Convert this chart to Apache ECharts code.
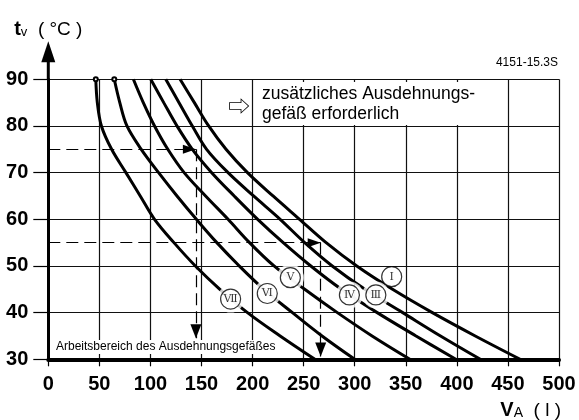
<!DOCTYPE html>
<html><head><meta charset="utf-8">
<script src="https://cdn.jsdelivr.net/npm/echarts@6/dist/echarts.min.js"></script>
<style>html,body{margin:0;padding:0;background:#fff}#c{width:579px;height:420px}</style>
</head><body><div id="c"></div>
<script>
// Flow temperature levels (°C) shared by all curves
const yLevels   = [90, 85, 80, 75, 70, 65, 60, 55, 50, 45, 40, 35, 30];
// System volume VA (l) per curve at each temperature level
const curveVII  = [46.5, 48, 52, 62, 76, 90, 104, 123, 144, 168, 195, 227, 261];
const curveVI   = [64.6, 70, 77, 91, 108, 126, 145, 165, 187, 211, 239, 268, 300];
const curveV    = [83.3, 93, 104, 117, 133, 154, 176, 197, 221, 251, 283, 317, 354];
const curveIV   = [100.3, 113, 126, 141, 160, 182, 205, 230, 257, 287, 322, 360, 399];
const curveIII  = [115, 128, 141, 155, 176, 201, 227, 251, 278, 310, 347, 384, 423];
const curveI    = [129, 143, 157, 174, 195, 220, 246, 272, 302, 337, 376, 418, 462];
// Curve labels (circled roman numerals)
const labelNames = ['Ⅶ', 'Ⅵ', 'Ⅴ', 'Ⅳ', 'Ⅲ', 'Ⅰ'];
const labelX     = [178.5, 214.4, 237, 294.8, 320.7, 336.2];
const labelY     = [42.9, 44.1, 47.5, 43.8, 43.8, 47.7];
const labelGap   = [true, true, true, true, true, false];
// Example reading paths (dashed arrows)
const example1 = [[0, 75], [144.5, 75], [144.5, 34.5]];
const example2 = [[0, 55], [266.7, 55], [266.7, 30.6]];
// Axis ticks
const xTicks = {min: 0, max: 500, step: 50};
const yTicks = {min: 30, max: 90, step: 10};

const FONT = 'Liberation Sans, Arial, Helvetica, sans-serif';
const chart = echarts.init(document.getElementById('c'), null, {renderer: 'canvas'});

function pts(xs) { return xs.map((x, i) => [x, yLevels[i]]); }
const curves = [
  {name: 'VII', xs: curveVII, dot: true},
  {name: 'VI', xs: curveVI, dot: true},
  {name: 'V', xs: curveV, dot: false},
  {name: 'IV', xs: curveIV, dot: false},
  {name: 'III', xs: curveIII, dot: false},
  {name: 'I', xs: curveI, dot: false}
];

const series = curves.map(c => ({
  type: 'line', name: c.name, smooth: 0.35, animation: false, silent: true,
  symbol: 'none', showSymbol: true, z: 3,
  data: pts(c.xs).map((p, i) => (i === 0 && c.dot)
    ? {value: p, symbol: 'emptyCircle', symbolSize: 4}
    : {value: p, symbol: 'none'}),
  lineStyle: {color: '#000', width: 3},
  itemStyle: {color: '#000', borderColor: '#000', borderWidth: 1}
}));

// white gaps around labels
series.push({
  type: 'scatter', silent: true, animation: false, z: 4,
  data: labelX.map((x, i) => [x, labelY[i]]).filter((p, i) => labelGap[i]),
  symbolSize: 27, itemStyle: {color: '#fff'}
});
series.push({
  type: 'scatter', silent: true, animation: false, z: 5,
  data: labelX.map((x, i) => ({value: [x, labelY[i]], name: labelNames[i]})),
  symbolSize: 20,
  itemStyle: {color: '#fff', borderColor: '#000', borderWidth: 1.2},
  label: {show: true, position: 'inside', formatter: p => p.name, color: '#000',
          fontSize: 11, fontFamily: 'DejaVu Serif, Liberation Serif, serif'}
});

function arrowSegs(path) {
  const segs = [];
  for (let i = 0; i < path.length - 1; i++) {
    const horiz = path[i][1] === path[i + 1][1];
    segs.push([
      {coord: path[i], symbol: 'none'},
      {coord: path[i + 1], symbol: 'triangle',
       symbolSize: horiz ? [9, 13] : [11, 14], symbolOffset: horiz ? [0, 6.5] : [0, 7]}
    ]);
  }
  return segs;
}
series.push({
  type: 'line', data: [], silent: true, animation: false, z: 6,
  markLine: {
    silent: true, animation: false, symbol: ['none', 'triangle'],
    lineStyle: {color: '#000', width: 1.2, type: [12, 6]},
    itemStyle: {color: '#000'},
    label: {show: false}, emphasis: {disabled: true},
    data: arrowSegs(example1).concat(arrowSegs(example2))
  }
});

const option = {
  backgroundColor: '#fff',
  animation: false,
  grid: {left: 48.3, top: 79.3, width: 510.7, height: 280, outerBoundsMode: 'none', containLabel: false},
  xAxis: {
    type: 'value', min: xTicks.min, max: xTicks.max, interval: xTicks.step,
    axisLine: {show: true, onZero: false, lineStyle: {color: '#000', width: 4}},
    axisTick: {show: true, length: 7, lineStyle: {color: '#000', width: 1.2}},
    splitLine: {show: true, lineStyle: {color: '#111', width: 1.2}},
    axisLabel: {color: '#000', fontSize: 20, fontWeight: 'bold', fontFamily: FONT, margin: 15}
  },
  yAxis: {
    type: 'value', min: yTicks.min, max: yTicks.max, interval: yTicks.step,
    axisLine: {show: true, onZero: false, lineStyle: {color: '#000', width: 3}},
    axisTick: {show: true, length: 15, lineStyle: {color: '#000', width: 1.2}},
    splitLine: {show: true, lineStyle: {color: '#111', width: 1.2}},
    axisLabel: {color: '#000', fontSize: 20, fontWeight: 'bold', fontFamily: FONT, margin: 20},
    name: '{b|t}{s|v}{n|  ( °C )}', nameLocation: 'end', nameGap: 40,
    nameTextStyle: {
      color: '#000', fontFamily: FONT,
      rich: {
        b: {fontSize: 20, fontWeight: 'bold', fontFamily: FONT, color: '#000', verticalAlign: 'bottom', lineHeight: 22},
        s: {fontSize: 13, fontFamily: FONT, color: '#000', verticalAlign: 'bottom', lineHeight: 22},
        n: {fontSize: 19, fontFamily: FONT, color: '#000', verticalAlign: 'bottom', lineHeight: 22}
      }
    }
  },
  graphic: [
    {type: 'rect', z: 10, silent: true, shape: {x: 255, y: 82, width: 225, height: 43}, style: {fill: '#fff'}},
    {type: 'text', z: 11, silent: true, x: 262, y: 84,
     style: {text: 'zusätzliches Ausdehnungs-\ngefäß erforderlich', fontSize: 17.5, fontFamily: FONT,
             fill: '#000', lineHeight: 20, align: 'left', verticalAlign: 'top'}},
    {type: 'text', z: 11, silent: true, x: 239, y: 106,
     style: {text: '⇨', fontSize: 22, fontFamily: 'Noto Sans CJK JP, DejaVu Sans, sans-serif', fill: '#000',
             align: 'center', verticalAlign: 'middle'}},
    {type: 'text', z: 11, silent: true, x: 558, y: 69,
     style: {text: '4151-15.3S', fontSize: 12, fontFamily: FONT, fill: '#000',
             align: 'right', verticalAlign: 'bottom'}},
    {type: 'text', z: 11, silent: true, x: 54, y: 347,
     style: {text: 'Arbeitsbereich des Ausdehnungsgefäßes', fontSize: 12, fontFamily: FONT, fill: '#000',
             align: 'left', verticalAlign: 'middle', backgroundColor: '#fff', padding: [1, 2, 1, 2]}},
    {type: 'text', z: 11, silent: true, x: 561, y: 420,
     style: {text: '{b|V}{s|A}{n|  ( l )}', align: 'right', verticalAlign: 'bottom', fill: '#000',
             rich: {
               b: {fontSize: 20, fontWeight: 'bold', fontFamily: FONT, fill: '#000', verticalAlign: 'bottom', lineHeight: 22},
               s: {fontSize: 14, fontFamily: FONT, fill: '#000', verticalAlign: 'bottom', lineHeight: 22},
               n: {fontSize: 19, fontFamily: FONT, fill: '#000', verticalAlign: 'bottom', lineHeight: 22}
             }}}
  ],
  series: series
};
chart.setOption(option);

// y-axis arrow extending above the plot, placed from the axis scale
const ax = chart.convertToPixel({xAxisIndex: 0}, xTicks.min);
const ayTop = chart.convertToPixel({yAxisIndex: 0}, yTicks.max);
option.graphic.push(
  {type: 'rect', z: 9, silent: true, shape: {x: ax - 1.5, y: ayTop - 18, width: 3, height: 18}, style: {fill: '#000'}},
  {type: 'polygon', z: 9, silent: true,
   shape: {points: [[ax, ayTop - 38], [ax + 7, ayTop - 17], [ax - 7, ayTop - 17]]}, style: {fill: '#000'}}
);
chart.setOption({graphic: option.graphic});
</script>
</body></html>
